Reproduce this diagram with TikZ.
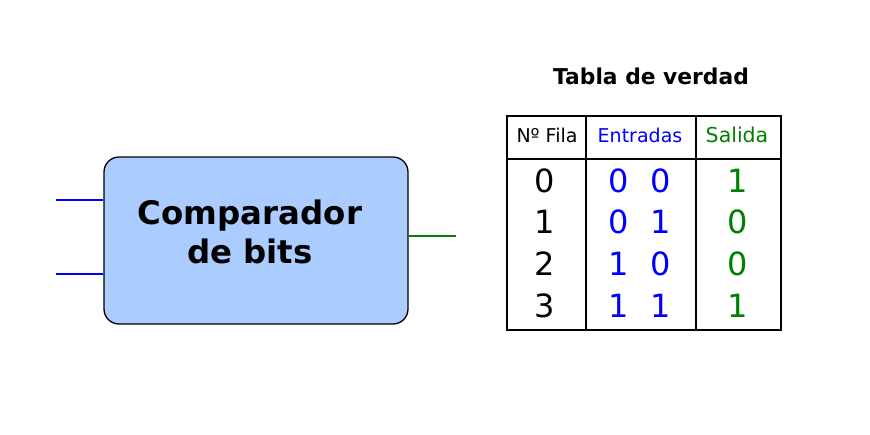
\documentclass[tikz,border=0pt]{standalone}
\usepackage{fontspec}
\setmainfont{DejaVu Sans}
\definecolor{boxfill}{HTML}{AACCFF}
\definecolor{inblue}{HTML}{0000FF}
\definecolor{outgreen}{HTML}{008000}
\tikzset{
  block/.style={draw=black, line width=1.3pt, fill=boxfill, rounded corners=15pt,
    minimum width=304pt, minimum height=167pt, inner sep=0pt},
  blocktext/.style={font=\fontsize{32.4}{39}\selectfont\bfseries, anchor=base, inner sep=0pt},
  title/.style={font=\fontsize{21.8}{26}\selectfont\bfseries, anchor=base, inner sep=0pt},
  head/.style={font=\fontsize{19}{23}\selectfont, anchor=base, inner sep=0pt},
  cell/.style={font=\fontsize{32}{38}\selectfont, anchor=base, inner sep=0pt},
  tabline/.style={line width=1.1pt, black},
  wire/.style={line width=1.3pt}
}
\begin{document}
\begin{tikzpicture}[x=1pt, y=-1pt]
\useasboundingbox (0,0) rectangle (870,434);
% block
\node[block] (cmp) at (256,240.5) {};
\node[blocktext] (l1) at (250,224) {Comparador};
\node[blocktext] (l2) at (250,263) {de bits};
% wires
\coordinate (in1) at (56,200);
\coordinate (in2) at (56,274);
\coordinate (out) at (456,236);
\draw[wire, inblue] (in1) -- (in1 -| cmp.west);
\draw[wire, inblue] (in2) -- (in2 -| cmp.west);
\draw[wire, outgreen] (out -| cmp.east) -- (out);
% table
\node[title] (tt) at (651,84) {Tabla de verdad};
\draw[tabline] (507,116) rectangle (781,330);
\draw[tabline] (586,116) -- (586,330);
\draw[tabline] (696,116) -- (696,330);
\draw[tabline] (507,159) -- (781,159);
\node[head] (h1) at (547,142.5) {Nº Fila};
\node[head, text=inblue] (h2) at (640,142.5) {Entradas};
\node[head, text=outgreen, font=\fontsize{20.5}{24}\selectfont] (h3) at (737,142.5) {Salida};
% rows
\node[cell] (r0) at (545,192) {0};
\node[cell, text=inblue] (a0) at (619,192) {0};
\node[cell, text=inblue] (b0) at (661,192) {0};
\node[cell, text=outgreen] (s0) at (738,192) {1};
\node[cell] (r1) at (545,233.5) {1};
\node[cell, text=inblue] (a1) at (619,233.5) {0};
\node[cell, text=inblue] (b1) at (661,233.5) {1};
\node[cell, text=outgreen] (s1) at (738,233.5) {0};
\node[cell] (r2) at (545,275) {2};
\node[cell, text=inblue] (a2) at (619,275) {1};
\node[cell, text=inblue] (b2) at (661,275) {0};
\node[cell, text=outgreen] (s2) at (738,275) {0};
\node[cell] (r3) at (545,317) {3};
\node[cell, text=inblue] (a3) at (619,317) {1};
\node[cell, text=inblue] (b3) at (661,317) {1};
\node[cell, text=outgreen] (s3) at (738,317) {1};
\end{tikzpicture}
\end{document}
